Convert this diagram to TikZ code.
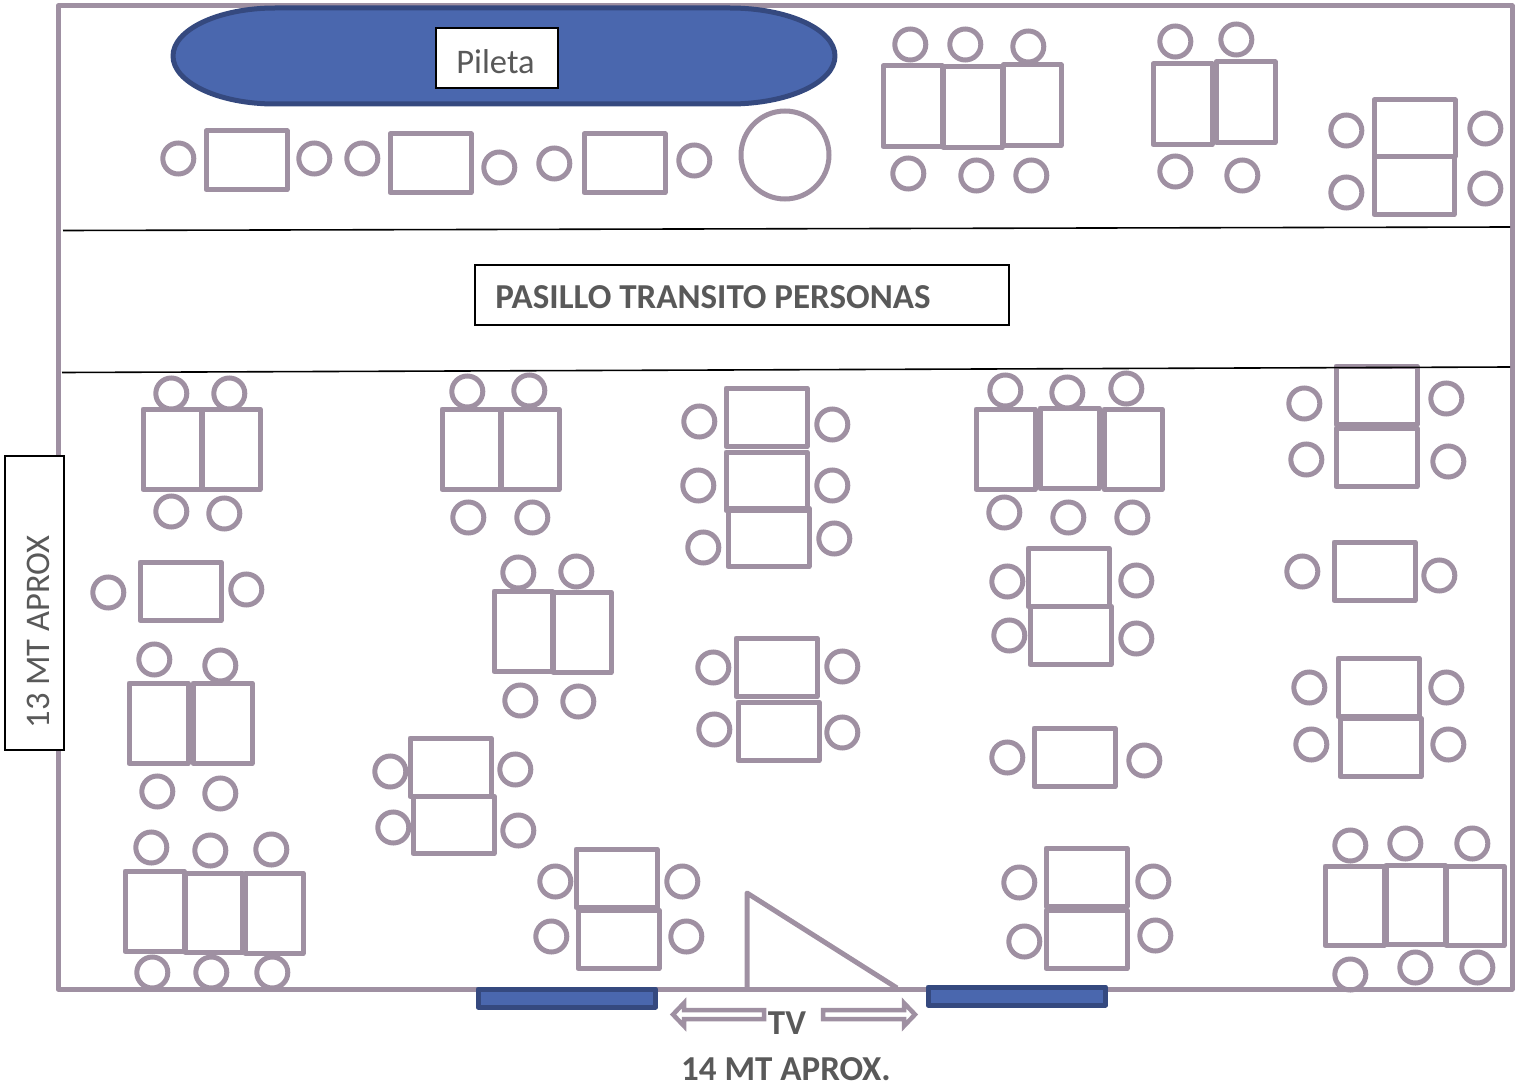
\documentclass[tikz,border=0pt]{standalone}
\usepackage{fontspec}
\setmainfont{Carlito}
\usepackage{xcolor}
\definecolor{plan}{HTML}{9F90A2}
\definecolor{water}{HTML}{4A67AE}
\definecolor{waterline}{HTML}{35497F}
\definecolor{words}{HTML}{595959}

\begin{document}
\begin{tikzpicture}[x=1pt, y=-1pt,
        desk/.style={draw=plan, line width=5pt, line join=round},
        chair/.style={draw=plan, line width=5pt},
        wall/.style={draw=plan, line width=5pt, line join=round},
        water/.style={draw=waterline, fill=water, line width=5pt, line join=round},
        labelbox/.style={draw=black, fill=white, line width=1.6pt, text=words, inner sep=0pt},
        labeltext/.style={text=words, inner sep=0pt, font=\fontsize{34.5}{38}\selectfont},
        boldtext/.style={text=words, inner sep=0pt, font=\fontsize{35}{38}\selectfont\bfseries},
        arrowline/.style={draw=plan, line width=4.5pt, line join=miter}]
        \useasboundingbox (0,0) rectangle (1521,1089);

        % room
        \draw[wall] (58,6) rectangle (1512,989);
        \draw[wall] (747,988) -- (747,893) -- (897,988);

        % pool
        \draw[water] (275,8) -- (730,8) arc[start angle=-90, end angle=90, x radius=105, y radius=48]
            -- (275,104) arc[start angle=90, end angle=270, x radius=102, y radius=48] -- cycle;
        \node[labelbox, minimum width=122pt, minimum height=60pt] (pileta) at (497,58) {};
        \node[labeltext] (piletatext) at (495.5,62) {Pileta};

        % tables
        \foreach \xa/\ya/\xb/\yb in {
            206/131/288/190, 390/134/472/193, 584/134/666/193,
            883/66/943/147, 943/67/1003/148, 1003/65/1062/146,
            1153/64/1213/145, 1216/62/1276/143,
            1374/100/1456/157, 1374/157/1455/215,
            143/409/202/490, 202/409/261/490,
            442/409/501/490, 501/409/560/490,
            726/388/808/447, 726/452/808/511, 728/508/810/567,
            976/409/1036/490, 1040/408/1100/489, 1104/409/1163/490,
            1336/366/1418/425, 1336/428/1418/487,
            140/562/222/621,
            494/591/553/672, 553/592/612/673,
            1028/548/1110/607, 1030/606/1112/665,
            1334/542/1416/601,
            129/683/189/764, 193/683/253/764,
            736/638/818/697, 738/702/820/761,
            1034/728/1116/787,
            1338/658/1420/717, 1340/718/1422/777,
            410/738/492/797, 413/796/495/854,
            125/871/185/952, 185/873/243/953, 245/873/304/954,
            576/849/658/908, 578/910/660/969,
            1046/848/1128/907, 1046/910/1128/969,
            1325/866/1385/946, 1386/865/1446/945, 1446/866/1505/946}
            \draw[desk] (\xa,\ya) rectangle ({\xb-1},{\yb-0.5});

        % chairs
        \foreach \x/\y in {
            178/158, 314/158, 362/158, 499/167, 554/163, 694/160,
            910/44, 965/44, 1028/46, 908/173, 976/175, 1031/175,
            1175/41, 1236/39, 1175/171, 1242/175,
            1346/130, 1485/128, 1346/192, 1485/188,
            171/393, 229/393, 171/511, 224/513,
            467/391, 529/390, 468/517, 532/517,
            699/421, 832/424, 698/485, 832/485, 703/547, 834/538,
            1005/390, 1067/392, 1126/388, 1004/512, 1068/517, 1132/517,
            1304/403, 1446/398, 1306/459, 1448/461,
            108/592, 246/589,
            518/572, 576/571, 520/700, 578/701,
            1007/581, 1136/580, 1009/635, 1136/638,
            1302/571, 1439/575,
            154/659, 220/665, 157/791, 220/793,
            713/667, 842/666, 714/729, 842/732,
            1007/757, 1144/760,
            1309/687, 1446/687, 1311/744, 1448/744,
            390/771, 515/769, 393/827, 518/830,
            151/847, 210/850, 271/849, 152/972, 211/972, 272/972,
            555/881, 682/881, 551/936, 686/936,
            1019/882, 1153/881, 1024/941, 1155/935,
            1350/845, 1405/843, 1472/843, 1350/974, 1415/967, 1477/967}
            \draw[chair] (\x+0.3,\y+0.5) circle (15.5);
        \draw[chair] (785,155) circle (44);

        % corridor
        \draw[black, line width=1.6pt] (63,230.5) -- (1510,227);
        \draw[black, line width=1.6pt] (62,372.5) -- (1510,367);
        \node[labelbox, minimum width=534pt, minimum height=60pt] (pasillo) at (742,295) {};
        \node[boldtext] (pasillotext) at (713,297) {PASILLO TRANSITO PERSONAS};

        % screens and measures
        \draw[water] (478,989) rectangle (655.5,1007);
        \draw[water] (928,987) rectangle (1105.5,1005);
        \draw[arrowline] (764,1010) -- (684,1010) -- (684,1003) -- (673,1014.5) -- (684,1026) -- (684,1019) -- (764,1019) -- cycle;
        \draw[arrowline] (823,1010) -- (904,1010) -- (904,1003) -- (915,1014.5) -- (904,1026) -- (904,1019) -- (823,1019) -- cycle;
        \node[boldtext] (tv) at (787,1023) {TV};
        \node[boldtext] (ancho) at (786,1069) {14 MT APROX.};
        \node[labelbox, minimum width=59pt, minimum height=294pt] (largo) at (34.5,603) {};
        \node[labeltext, rotate=90] (largotext) at (38,632) {13 MT APROX};
\end{tikzpicture}
\end{document}
